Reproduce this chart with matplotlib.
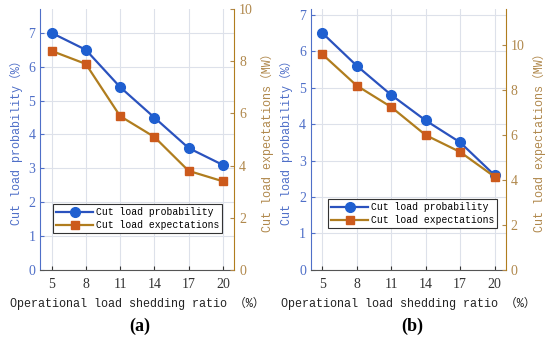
import matplotlib.pyplot as plt

ratio = [5, 8, 11, 14, 17, 20]

prob_a = [7.0, 6.5, 5.4, 4.5, 3.6, 3.1]
expect_a = [8.4, 7.9, 5.9, 5.1, 3.8, 3.4]

prob_b = [6.5, 5.6, 4.8, 4.1, 3.5, 2.6]
expect_b = [9.6, 8.2, 7.25, 6.0, 5.25, 4.15]

BLUE = '#2a52be'
BLUE_MK = '#1f5fd0'
BLUE_TXT = '#4f6fc8'
BROWN = '#b07d1e'
BROWN_MK = '#cc5a1c'
BROWN_TXT = '#b0884c'

mono = ['Liberation Mono', 'Noto Sans CJK SC']
serif = 'Liberation Serif'

fig = plt.figure(figsize=(5.5, 3.4), dpi=100)


def panel(rect, prob, expect, ylim_l, ylim_r, rticks, leg_xy, tag, tag_x):
    ax = fig.add_axes(rect)
    ax2 = ax.twinx()

    l1, = ax.plot(ratio, prob, '-o', color=BLUE, lw=1.6,
                  markersize=7, markerfacecolor=BLUE_MK, markeredgecolor=BLUE_MK)
    l2, = ax2.plot(ratio, expect, '-s', color=BROWN, lw=1.6,
                   markersize=5.5, markerfacecolor=BROWN_MK, markeredgecolor=BROWN_MK)

    ax.set_xlim(4, 21)
    ax.set_xticks(ratio)
    ax.set_ylim(*ylim_l)
    ax.set_yticks(range(0, 8))
    ax2.set_ylim(*ylim_r)
    ax2.set_yticks(rticks)

    ax.grid(True, color='#dde1ea', lw=0.8)
    ax.set_axisbelow(True)

    for a in (ax, ax2):
        a.spines['top'].set_visible(False)
        a.tick_params(direction='in', length=3, labelsize=10)
        for lab in a.get_xticklabels() + a.get_yticklabels():
            lab.set_fontfamily(serif)
    ax.tick_params(axis='x', pad=6)
    ax2.spines['left'].set_visible(False)
    ax.spines['right'].set_visible(False)
    ax2.spines['bottom'].set_visible(False)

    ax.spines['left'].set_color(BLUE_TXT)
    ax.tick_params(axis='y', colors=BLUE_TXT)
    ax.spines['bottom'].set_color('#555555')
    ax.tick_params(axis='x', colors='#333333')
    ax2.spines['right'].set_color(BROWN)
    ax2.tick_params(axis='y', colors=BROWN_TXT)

    ax.set_xlabel('Operational load shedding ratio \uff08%\uff09', family=mono,
                  fontsize=8.5, color='#222222', labelpad=4)
    ax.set_ylabel('Cut load probability\uff08%\uff09', family=mono,
                  fontsize=8.5, color=BLUE_TXT, labelpad=4)
    ax2.set_ylabel('Cut load expectations\uff08MW\uff09', family=mono,
                   fontsize=8.5, color=BROWN_TXT, labelpad=6)

    leg = ax2.legend([l1, l2], ['Cut load probability', 'Cut load expectations'],
                     loc='lower left', bbox_to_anchor=leg_xy, borderaxespad=0,
                     prop={'family': mono, 'size': 7}, fancybox=False,
                     framealpha=1, edgecolor='#333333', handlelength=3.8,
                     handletextpad=0.3, borderpad=0.3, labelspacing=0.3)
    leg.get_frame().set_linewidth(0.8)

    fig.text(tag_x, 0.04, tag, ha='center', va='center', family=serif,
             fontsize=13, fontweight='bold')


panel([0.073, 0.206, 0.353, 0.767], prob_a, expect_a, (0, 7.7), (0, 10),
      [0, 2, 4, 6, 8, 10], (0.067, 0.142), '(a)', 0.255)
panel([0.565, 0.206, 0.355, 0.767], prob_b, expect_b, (0, 7.15), (0, 11.6),
      [0, 2, 4, 6, 8, 10], (0.09, 0.16), '(b)', 0.75)

fig.savefig('out.png', dpi=100)
